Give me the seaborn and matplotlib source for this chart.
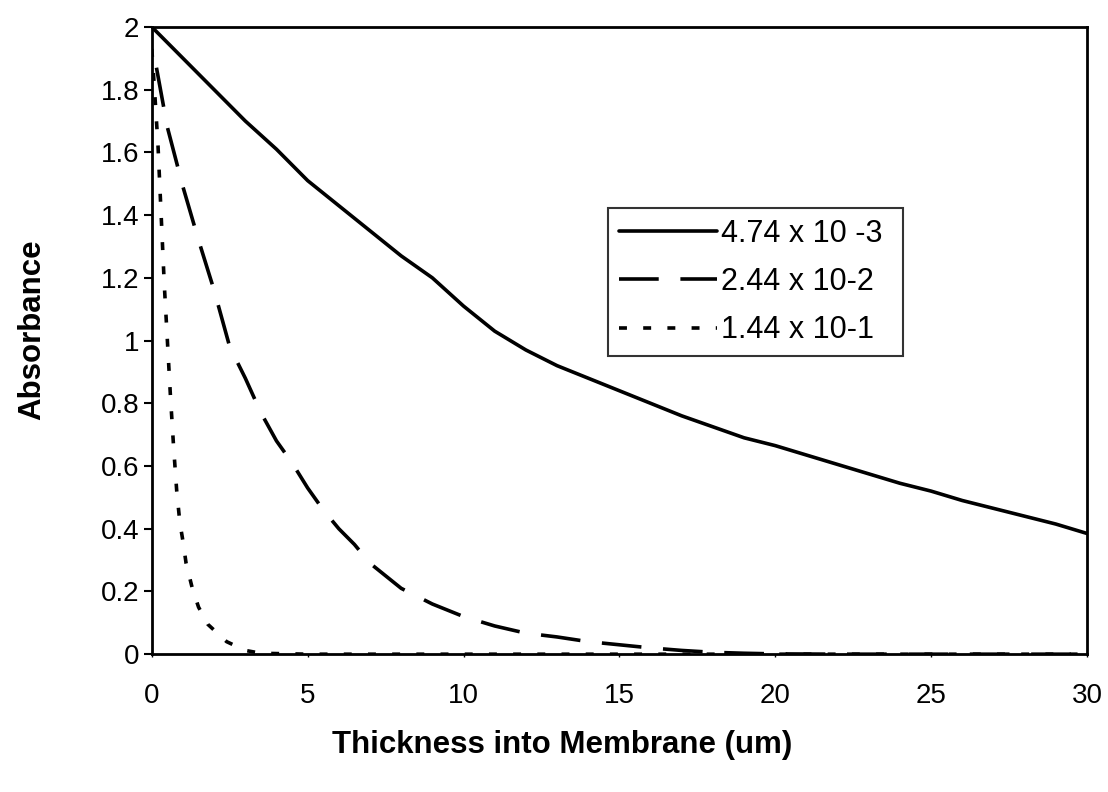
import numpy as np
import pandas as pd
import matplotlib
matplotlib.use("Agg")
import matplotlib.pyplot as plt
import seaborn as sns

# ---- data ----
x_solid = [0, 1, 2, 3, 4, 5, 6, 7, 8, 9, 10, 11, 12, 13, 14, 15, 16, 17, 18, 19, 20,
           21, 22, 23, 24, 25, 26, 27, 28, 29, 30]
a_solid = [2.0, 1.90, 1.80, 1.70, 1.61, 1.51, 1.43, 1.35, 1.27, 1.20, 1.11, 1.03, 0.97,
           0.92, 0.88, 0.84, 0.80, 0.76, 0.725, 0.69, 0.665, 0.635, 0.605, 0.575, 0.545,
           0.52, 0.49, 0.465, 0.44, 0.415, 0.385]

x_dashed = [0.15, 0.5, 1.0, 1.5, 2.0, 2.5, 3.0, 3.5, 4.0, 4.5, 5.0, 5.5, 6.0, 6.5, 7.0,
            8.0, 9.0, 10, 11, 12, 13, 14, 15, 16, 17, 18, 19, 20, 22, 25, 30]
a_dashed = [1.87, 1.68, 1.49, 1.32, 1.16, 0.98, 0.88, 0.77, 0.68, 0.61, 0.53, 0.46, 0.40,
            0.35, 0.29, 0.21, 0.16, 0.12, 0.09, 0.067, 0.055, 0.04, 0.03, 0.02, 0.012,
            0.006, 0.003, 0.001, 0.0, 0.0, 0.0]

x_dotted = [0, 0.1, 0.2, 0.3, 0.4, 0.5, 0.6, 0.7, 0.8, 0.9, 1.0, 1.1, 1.3, 1.5, 1.8,
            2.4, 3.0, 3.5, 5, 10, 15, 20, 25, 30]
a_dotted = [1.93, 1.78, 1.62, 1.40, 1.18, 1.00, 0.82, 0.66, 0.52, 0.42, 0.36, 0.29, 0.21,
            0.15, 0.095, 0.04, 0.012, 0.003, 0.0, 0.0, 0.0, 0.0, 0.0, 0.0]

labels = ["4.74 x 10 -3", "2.44 x 10-2", "1.44 x 10-1"]
x_ticks = [0, 5, 10, 15, 20, 25, 30]
y_ticks = [0, 0.2, 0.4, 0.6, 0.8, 1.0, 1.2, 1.4, 1.6, 1.8, 2.0]
y_tick_labels = ["0", "0.2", "0.4", "0.6", "0.8", "1", "1.2", "1.4", "1.6", "1.8", "2"]

sns.set_style("white")
plt.rcParams["font.family"] = ["Liberation Sans", "DejaVu Sans"]
plt.rcParams["text.color"] = "black"
plt.rcParams["axes.labelcolor"] = "black"
plt.rcParams["xtick.color"] = "black"
plt.rcParams["ytick.color"] = "black"

fig = plt.figure(figsize=(11.08, 7.92), dpi=100)
ax = fig.add_axes([0.137, 0.174, 0.844, 0.792])

series = [(x_solid, a_solid, labels[0], "-"),
          (x_dashed, a_dashed, labels[1], (0, (11, 6))),
          (x_dotted, a_dotted, labels[2], (0, (2.2, 4.5)))]
for xs, ys, lab, ls in series:
    df = pd.DataFrame({"x": xs, "y": ys})
    sns.lineplot(data=df, x="x", y="y", ax=ax, color="black", linewidth=2.6,
                 linestyle=ls, label=lab, sort=False)

ax.set_xlim(0, 30)
ax.set_ylim(0, 2)
ax.set_xticks(x_ticks)
ax.set_xticklabels([str(t) for t in x_ticks])
ax.set_yticks(y_ticks)
ax.set_yticklabels(y_tick_labels)
ax.tick_params(axis="y", direction="out", length=6, width=1.5, color="black",
               labelcolor="black", labelsize=20, pad=3, left=True)
ax.tick_params(axis="x", direction="out", length=2, width=1.0, color="black",
               labelcolor="black", labelsize=20, pad=19, bottom=True)
for sp in ax.spines.values():
    sp.set_color("black")
    sp.set_linewidth(2.0)

ax.set_xlabel("Thickness into Membrane (um)", fontsize=22.5, fontweight="bold", color="black")
ax.set_ylabel("Absorbance", fontsize=22.5, fontweight="bold", color="black")
ax.xaxis.set_label_coords(0.4385, -0.145)
ax.yaxis.set_label_coords(-0.128, 0.518)
ax.xaxis.label.set_va("center")
ax.yaxis.label.set_va("center")

leg = ax.legend(loc="lower left", bbox_to_anchor=(0.488, 0.475, 0.315, 0.238),
                mode="expand", fontsize=22, frameon=True, fancybox=False,
                handlelength=3.2, handletextpad=0.12, borderaxespad=0.0,
                labelspacing=0.6, borderpad=0.36, labelcolor="black")
leg.get_frame().set_edgecolor("black")
leg.get_frame().set_linewidth(1.5)

fig.savefig("out.png", dpi=100, facecolor="white")
